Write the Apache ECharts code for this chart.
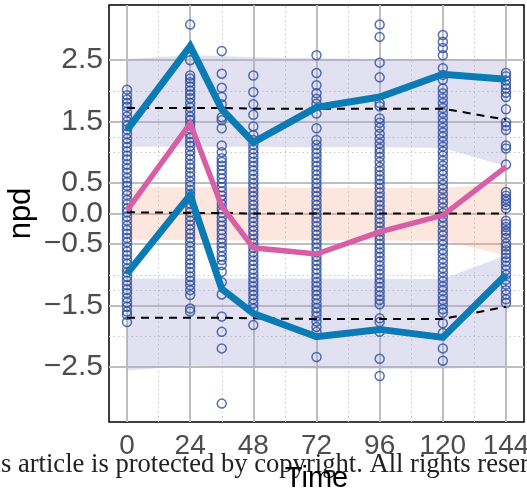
<!DOCTYPE html>
<html><head><meta charset="utf-8">
<script src="https://cdn.jsdelivr.net/npm/echarts@6/dist/echarts.min.js"></script>
<style>html,body{margin:0;padding:0;background:#fff}#c{width:527px;height:491px}</style>
</head><body><div id="c"></div>
<script>
// ---- data ----
const times = [0, 24, 36, 48, 72, 96, 120, 144];

const npd_t0 = [2.02,1.93,1.86,1.80,1.74,1.66,1.58,1.50,1.43,1.37,1.30,1.22,1.15,1.08,1.01,0.94,0.88,0.80,0.73,0.66,0.58,0.51,0.45,0.37,0.30,0.22,0.15,0.08,0.02,-0.05,-0.12,-0.20,-0.27,-0.33,-0.40,-0.47,-0.55,-0.62,-0.68,-0.75,-0.82,-0.90,-0.96,-1.03,-1.10,-1.17,-1.24,-1.30,-1.38,-1.45,-1.52,-1.60,-1.65,-1.77];
const npd_t24 = [3.08,2.50,2.25,2.20,2.14,2.07,2.00,1.94,1.88,1.80,1.73,1.66,1.58,1.52,1.45,1.38,1.30,1.23,1.16,1.10,1.02,0.95,0.88,0.80,0.74,0.67,0.60,0.52,0.45,0.38,0.31,0.24,0.16,0.09,0.02,-0.05,-0.12,-0.19,-0.26,-0.33,-0.40,-0.47,-0.54,-0.61,-0.68,-0.75,-0.82,-0.89,-0.96,-1.03,-1.10,-1.17,-1.25,-1.33,-1.55,-1.60];
const npd_t36 = [2.65,2.28,2.05,1.90,1.78,1.57,1.52,1.39,1.11,1.00,0.90,0.84,0.78,0.71,0.64,0.57,0.50,0.43,0.36,0.29,0.22,0.15,0.08,0.01,-0.06,-0.13,-0.20,-0.27,-0.34,-0.41,-0.48,-0.55,-0.62,-0.70,-0.76,-0.84,-0.95,-1.12,-1.32,-1.68,-1.93,-2.20,-3.10];
const npd_t48 = [2.25,1.98,1.78,1.61,1.42,1.28,1.20,1.12,1.05,0.98,0.91,0.84,0.77,0.70,0.63,0.56,0.49,0.42,0.35,0.28,0.21,0.14,0.07,0.00,-0.07,-0.14,-0.21,-0.28,-0.35,-0.42,-0.49,-0.56,-0.63,-0.70,-0.77,-0.84,-0.91,-0.98,-1.05,-1.12,-1.19,-1.26,-1.33,-1.40,-1.47,-1.55,-1.82];
const npd_t72 = [2.58,2.29,2.09,1.96,1.87,1.79,1.63,1.39,1.20,1.12,1.05,0.98,0.91,0.84,0.77,0.70,0.63,0.56,0.49,0.42,0.35,0.28,0.21,0.14,0.07,0.00,-0.07,-0.14,-0.21,-0.28,-0.35,-0.42,-0.49,-0.56,-0.63,-0.70,-0.77,-0.84,-0.91,-0.98,-1.05,-1.12,-1.19,-1.26,-1.33,-1.40,-1.47,-1.54,-1.61,-1.68,-1.76,-1.85,-1.93,-2.34];
const npd_t96 = [3.08,2.88,2.46,2.22,1.80,1.75,1.55,1.48,1.40,1.30,1.22,1.14,1.06,0.99,0.92,0.84,0.76,0.69,0.62,0.55,0.48,0.41,0.34,0.27,0.20,0.13,0.06,-0.01,-0.08,-0.15,-0.22,-0.29,-0.36,-0.43,-0.50,-0.57,-0.64,-0.71,-0.78,-0.85,-0.92,-0.99,-1.06,-1.13,-1.20,-1.27,-1.34,-1.41,-1.48,-1.71,-1.77,-1.93,-2.37,-2.65];
const npd_t120 = [2.91,2.80,2.70,2.58,2.37,2.26,2.18,2.04,1.96,1.88,1.80,1.72,1.64,1.56,1.48,1.40,1.32,1.25,1.17,1.09,1.01,0.94,0.86,0.78,0.70,0.63,0.55,0.47,0.40,0.32,0.24,0.17,0.09,0.01,-0.06,-0.14,-0.21,-0.29,-0.36,-0.44,-0.51,-0.59,-0.66,-0.74,-0.81,-0.89,-0.96,-1.04,-1.11,-1.19,-1.26,-1.34,-1.41,-1.48,-1.56,-1.62,-1.79,-1.95,-2.20,-2.40];
const npd_t144 = [2.29,2.24,2.17,2.10,2.04,1.97,1.90,1.70,1.49,1.43,1.36,1.11,1.06,0.80,0.35,0.29,0.24,0.19,0.14,0.08,-0.12,-0.17,-0.22,-0.28,-0.33,-0.40,-0.49,-0.54,-0.60,-0.66,-0.72,-0.78,-0.85,-0.92,-1.00,-1.08,-1.16,-1.25,-1.32,-1.40,-1.46];
const npdByTime = [npd_t0, npd_t24, npd_t36, npd_t48, npd_t72, npd_t96, npd_t120, npd_t144];

// observed percentiles
const obsP95 = [1.36, 2.73, 1.70, 1.16, 1.73, 1.90, 2.27, 2.19];
const obsP50 = [0.05, 1.47, 0.12, -0.56, -0.66, -0.30, -0.03, 0.76];
const obsP05 = [-0.98, 0.30, -1.23, -1.63, -2.01, -1.89, -2.02, -1.00];
// theoretical percentiles (dashed)
const thP95 = [1.72, 1.72, 1.72, 1.71, 1.71, 1.71, 1.71, 1.53];
const thP50 = [0.02, 0.01, 0.01, 0.00, 0.00, 0.00, 0.00, 0.00];
const thP05 = [-1.70, -1.70, -1.70, -1.71, -1.72, -1.72, -1.72, -1.52];
// prediction intervals (shaded)
const piHiUpper = [2.52, 2.58, 2.57, 2.55, 2.53, 2.52, 2.52, 2.50];
const piHiLower = [1.09, 1.09, 1.09, 1.09, 1.08, 1.08, 1.07, 0.77];
const piMidUpper = [0.43, 0.43, 0.43, 0.43, 0.42, 0.42, 0.42, 0.48];
const piMidLower = [-0.43, -0.43, -0.44, -0.44, -0.44, -0.44, -0.45, -0.68];
const piLoUpper = [-1.06, -1.06, -1.06, -1.06, -1.06, -1.07, -1.07, -0.68];
const piLoLower = [-2.56, -2.48, -2.50, -2.52, -2.53, -2.53, -2.53, -2.50];

const xTicks = [0, 24, 48, 72, 96, 120, 144];
const xMinor = [12, 36, 60, 84, 108, 132];
const yTicks = [-2.5, -1.5, -0.5, 0, 0.5, 1.5, 2.5];
const yMinor = [-2, -1.25, -1, 1, 1.25, 2];

// ---- chart ----
const chart = echarts.init(document.getElementById('c'), null, {renderer: 'canvas'});
const FONT = 'Liberation Sans, Arial, sans-serif';

function band(hi, lo, color) {
  return {
    type: 'custom', z: 3, silent: true, animation: false,
    data: [[0, 0]],
    renderItem: function (params, api) {
      const pts = [];
      for (let i = 0; i < times.length; i++) pts.push(api.coord([times[i], hi[i]]));
      for (let i = times.length - 1; i >= 0; i--) pts.push(api.coord([times[i], lo[i]]));
      return {type: 'polygon', shape: {points: pts}, style: {fill: color}};
    }
  };
}
function pairs(vals) { return times.map((t, i) => [t, vals[i]]); }
function lineS(vals, color, width, dashed, z) {
  return {
    type: 'line', data: pairs(vals), symbol: 'none', silent: true, z: z, animation: false,
    lineStyle: {color: color, width: width, type: dashed ? [8, 6] : 'solid', cap: 'butt', join: 'miter'}
  };
}
const majorStyle = {color: '#bebebe', width: 2, type: 'solid'};
const minorStyle = {color: '#c8c8c8', width: 1, type: [1.5, 3]};
const gridMarks = []
  .concat(xMinor.map(v => ({xAxis: v, lineStyle: minorStyle})))
  .concat(yMinor.map(v => ({yAxis: v, lineStyle: minorStyle})))
  .concat(xTicks.map(v => ({xAxis: v, lineStyle: majorStyle})))
  .concat(yTicks.map(v => ({yAxis: v, lineStyle: majorStyle})));

const scatterData = [];
times.forEach((t, i) => npdByTime[i].forEach(v => scatterData.push([t, v])));

chart.setOption({
  animation: false,
  textStyle: {fontFamily: FONT},
  grid: {left: 109, right: 3, top: 5, bottom: 69, show: true, borderColor: '#000', borderWidth: 1.5,
    backgroundColor: '#fff', containLabel: false, outerBoundsMode: 'none'},
  xAxis: {
    type: 'value', min: -6.84, max: 150.84,
    name: 'Time', nameLocation: 'middle', nameGap: 42, nameMoveOverlap: false,
    nameTextStyle: {fontSize: 29, color: '#000', fontFamily: FONT},
    axisLine: {show: true, lineStyle: {color: '#000', width: 1.5}},
    axisTick: {show: true, length: 5, lineStyle: {color: '#000', width: 1.5}, customValues: xTicks},
    axisLabel: {show: true, fontSize: 28, color: '#4d4d4d', margin: 10, customValues: xTicks, fontFamily: FONT},
    splitLine: {show: false}
  },
  yAxis: {
    type: 'value', min: -3.4, max: 3.4,
    name: 'npd', nameLocation: 'middle', nameGap: 72, nameMoveOverlap: false,
    nameTextStyle: {fontSize: 31, color: '#000', fontFamily: FONT},
    axisLine: {show: true, lineStyle: {color: '#000', width: 1.5}},
    axisTick: {show: true, length: 5, lineStyle: {color: '#000', width: 1.5}, customValues: yTicks},
    axisLabel: {show: true, fontSize: 30, color: '#4d4d4d', margin: 6, customValues: yTicks, fontFamily: FONT,
      formatter: v => (v < 0 ? '\u2212' : '') + Math.abs(v).toFixed(1)},
    splitLine: {show: false}
  },
  graphic: [{
    type: 'text', z: 0, silent: true,
    style: {x: -36, y: 452, text: 'This article is protected by copyright. All rights reserved.',
      font: '26.6px "Liberation Serif", "Times New Roman", serif', fill: '#222', verticalAlign: 'top'}
  }],
  series: [
    {type: 'line', data: [[0, 0]], symbol: 'none', lineStyle: {opacity: 0}, silent: true, z: 1,
      markLine: {silent: true, z: 1, symbol: ['none', 'none'], label: {show: false}, animation: false, data: gridMarks}},
    band(piHiUpper, piHiLower, 'rgba(170,170,215,0.35)'),
    band(piMidUpper, piMidLower, 'rgba(245,165,135,0.28)'),
    band(piLoUpper, piLoLower, 'rgba(170,170,215,0.35)'),
    {type: 'scatter', data: scatterData, symbol: 'circle', symbolSize: 9, z: 4, silent: true, animation: false,
      itemStyle: {color: 'rgba(0,0,0,0)', borderColor: '#2c4fa3', borderWidth: 1.5}},
    lineS(thP95, '#000', 2, true, 5),
    lineS(thP50, '#000', 2, true, 5),
    lineS(thP05, '#000', 2, true, 5),
    lineS(obsP95, '#0a7bb5', 7, false, 6),
    lineS(obsP05, '#0a7bb5', 7, false, 6),
    lineS(obsP50, '#d75fa5', 5.5, false, 7)
  ]
});
</script>
</body></html>
